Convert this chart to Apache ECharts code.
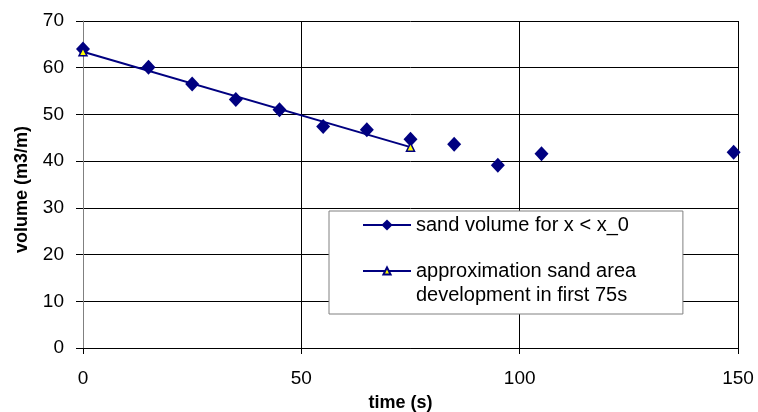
<!DOCTYPE html>
<html>
<head>
<meta charset="utf-8">
<script src="https://cdn.jsdelivr.net/npm/echarts@6/dist/echarts.min.js"></script>
<style>
  html, body { margin: 0; padding: 0; background: #fff; }
  #chart { width: 758px; height: 412px; }
</style>
</head>
<body>
<div id="chart"></div>
<script>
var fontName = '"Liberation Sans", Arial, sans-serif'

// measured sand volume
var timeValues = [0, 15, 25, 35, 45, 55, 65, 75, 85, 95, 105, 149]
var volumeValues = [64, 60.1, 56.5, 53.2, 51.0, 47.4, 46.7, 44.7, 43.6, 39.1, 41.6, 41.9]

// linear approximation over the first 75 s
var approxTime = [0, 75]
var approxVolume = [63.4, 43.0]

var seriesNames = ['sand volume for x < x_0', 'approximation sand area development in first 75s']
var legendLabels = ['sand volume for x < x_0', ' \napproximation sand area\ndevelopment in first 75s']

function pairs(xs, ys) {
  return xs.map(function (x, i) { return [x, ys[i]] })
}

function legendText(name) {
  return legendLabels[seriesNames.indexOf(name)]
}

var legendTextStyle = { fontSize: 20, lineHeight: 24, color: '#000', fontFamily: fontName }

var myChart = echarts.init(document.getElementById('chart'))

myChart.setOption({
  animation: false,
  backgroundColor: '#fff',
  textStyle: { fontFamily: fontName },
  grid: { left: 83, right: 20, top: 21, bottom: 64, containLabel: false, outerBoundsMode: 'none' },
  xAxis: {
    type: 'value',
    min: 0,
    max: 150,
    interval: 50,
    name: 'time (s)',
    nameLocation: 'middle',
    nameGap: 46,
    nameTextStyle: { fontSize: 18, fontWeight: 'bold', color: '#000', fontFamily: fontName, padding: [0, 20, 0, 0] },
    axisLine: { show: true, onZero: false, lineStyle: { color: '#000', width: 1 } },
    axisTick: { show: true, inside: false, length: 6, lineStyle: { color: '#000' } },
    axisLabel: { fontSize: 19, color: '#000', margin: 21, fontFamily: fontName },
    splitLine: { show: true, lineStyle: { color: '#000', width: 1 } }
  },
  yAxis: {
    type: 'value',
    min: 0,
    max: 70,
    interval: 10,
    name: 'volume (m3/m)',
    nameLocation: 'middle',
    nameGap: 52,
    nameTextStyle: { fontSize: 18, fontWeight: 'bold', color: '#000', fontFamily: fontName, padding: [0, 10, 0, 0] },
    axisLine: { show: true, lineStyle: { color: '#808080', width: 1 } },
    axisTick: { show: true, inside: false, length: 7, lineStyle: { color: '#000' } },
    axisLabel: { fontSize: 19, color: '#000', margin: 19, fontFamily: fontName },
    splitLine: { show: true, lineStyle: { color: '#000', width: 1 } }
  },
  legend: [
    {
      // first entry, its frame covers the whole legend box
      orient: 'vertical',
      left: 329,
      top: 211,
      padding: [2, 54, 77, 33],
      itemWidth: 48,
      itemHeight: 14,
      backgroundColor: '#fff',
      borderColor: '#808080',
      borderWidth: 1,
      borderRadius: 0,
      selectedMode: false,
      textStyle: legendTextStyle,
      formatter: legendText,
      data: [
        { name: seriesNames[0], lineStyle: { width: 2, color: '#000080', opacity: 1 } }
      ],
      z: 5
    },
    {
      orient: 'vertical',
      left: 362,
      top: 235,
      padding: 0,
      itemWidth: 48,
      itemHeight: 9,
      selectedMode: false,
      textStyle: legendTextStyle,
      formatter: legendText,
      data: [seriesNames[1]],
      z: 6
    }
  ],
  series: [
    {
      name: seriesNames[0],
      type: 'line',
      data: pairs(timeValues, volumeValues),
      symbol: 'diamond',
      symbolSize: [14, 15],
      itemStyle: { color: '#000080' },
      lineStyle: { width: 0, color: '#000080' },
      z: 2
    },
    {
      name: seriesNames[1],
      type: 'line',
      data: pairs(approxTime, approxVolume),
      symbol: 'triangle',
      symbolSize: 8,
      showAllSymbol: true,
      itemStyle: { color: '#ffff00', borderColor: '#000080', borderWidth: 1.5 },
      lineStyle: { width: 2, color: '#000080' },
      z: 3
    }
  ]
})
</script>
</body>
</html>
